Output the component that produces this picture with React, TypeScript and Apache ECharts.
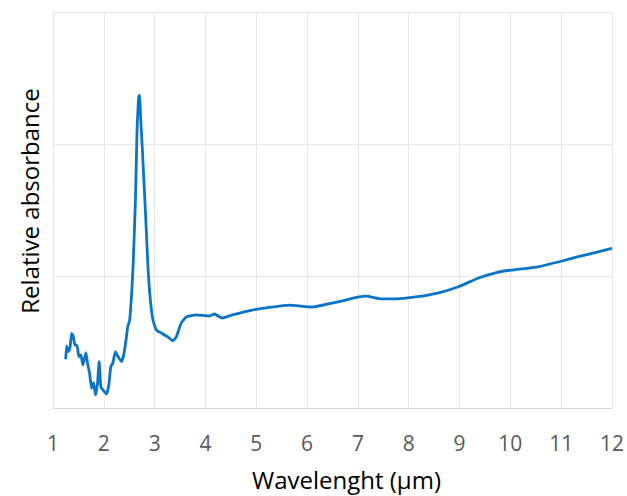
import React, { useEffect, useRef } from "react";
import * as echarts from "echarts";

// Wavelength (µm) and relative absorbance
const wavelength = [
  1.249, 1.269, 1.3, 1.333, 1.367, 1.398, 1.431, 1.471, 1.51, 1.549, 1.588, 1.647, 1.68, 1.72,
  1.759, 1.798, 1.837, 1.876, 1.908, 1.941, 1.986, 2.053, 2.098, 2.137, 2.176, 2.229, 2.28,
  2.347, 2.398, 2.445, 2.47, 2.51, 2.575, 2.622, 2.653, 2.686, 2.706, 2.72, 2.759, 2.824,
  2.869, 2.916, 2.967, 3.033, 3.131, 3.261, 3.359, 3.425, 3.524, 3.622, 3.818, 4.078, 4.176,
  4.327, 4.529, 4.922, 5.196, 5.647, 6.098, 6.49, 6.686, 7.02, 7.157, 7.471, 7.745, 8.137,
  8.588, 8.98, 9.373, 9.765, 10.02, 10.549, 10.941, 11.333, 11.725, 12.0,
];
const absorbance = [
  0.369, 0.47, 0.427, 0.452, 0.566, 0.545, 0.477, 0.477, 0.389, 0.402, 0.326, 0.419, 0.339,
  0.263, 0.149, 0.192, 0.098, 0.187, 0.351, 0.161, 0.136, 0.106, 0.174, 0.313, 0.339, 0.427,
  0.389, 0.351, 0.414, 0.54, 0.614, 0.667, 1.068, 1.576, 2.083, 2.356, 2.371, 2.235, 1.955,
  1.447, 1.068, 0.818, 0.667, 0.591, 0.568, 0.538, 0.508, 0.538, 0.644, 0.689, 0.705, 0.697,
  0.712, 0.682, 0.705, 0.742, 0.758, 0.78, 0.765, 0.795, 0.811, 0.841, 0.848, 0.826, 0.826,
  0.841, 0.873, 0.919, 0.985, 1.03, 1.045, 1.07, 1.106, 1.146, 1.182, 1.21,
];

const xTicks = [1, 2, 3, 4, 5, 6, 7, 8, 9, 10, 11, 12];
const xTitle = "Wavelenght (µm)";
const yTitle = "Relative absorbance";

export default function App() {
  const ref = useRef<HTMLDivElement>(null);
  useEffect(() => {
    if (!ref.current) return;
    const chart = echarts.init(ref.current, undefined, { renderer: "svg" });
    const font = "'Open Sans', sans-serif";
    chart.setOption({
      animation: false,
      backgroundColor: "#ffffff",
      grid: { left: 53, right: 13, top: 12, bottom: 88 },
      xAxis: {
        type: "value",
        min: xTicks[0],
        max: xTicks[xTicks.length - 1],
        interval: 1,
        name: xTitle,
        nameLocation: "middle",
        nameGap: 59,
        nameTextStyle: { color: "#000", fontSize: 24, fontFamily: font, padding: [0, 0, 0, 28] },
        axisLine: { show: true, lineStyle: { color: "#d9d9d9", width: 1 } },
        axisTick: { show: false },
        axisLabel: { color: "#595959", fontSize: 21, fontFamily: font, margin: 24 },
        splitLine: { show: true, lineStyle: { color: "#e6e6e6", width: 1 } },
      },
      yAxis: {
        type: "value",
        min: 0,
        max: 3,
        interval: 1,
        name: yTitle,
        nameLocation: "middle",
        nameGap: 12,
        nameTextStyle: { color: "#000", fontSize: 24, fontFamily: font, padding: [0, 0, 0, 18] },
        axisLine: { show: false },
        axisTick: { show: false },
        axisLabel: { show: false },
        splitLine: { show: true, lineStyle: { color: "#e6e6e6", width: 1 } },
      },
      series: [
        {
          type: "line",
          data: wavelength.map((w, i) => [w, absorbance[i]]),
          showSymbol: false,
          smooth: 0.15,
          lineStyle: { color: "#0a74c9", width: 2.8 },
        },
      ],
    });
    return () => chart.dispose();
  }, []);
  return (
    <div
      ref={ref}
      style={{ position: "fixed", left: 0, top: 0, width: 627, height: 496 }}
    />
  );
}
